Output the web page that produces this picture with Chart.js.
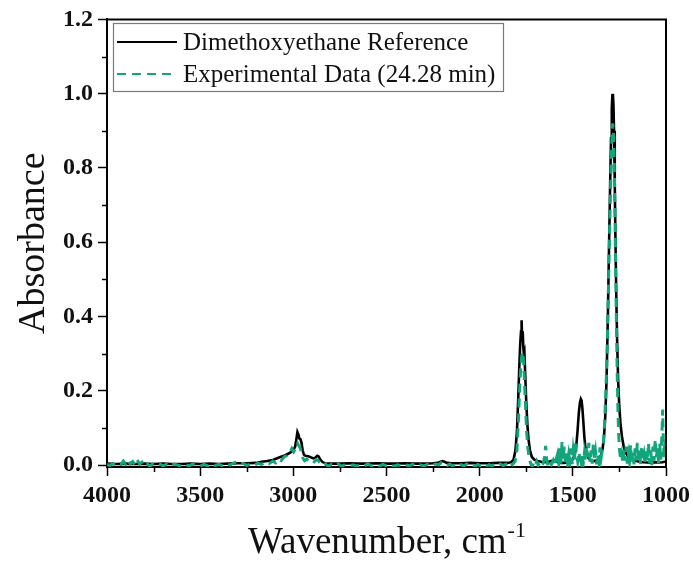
<!DOCTYPE html>
<html>
<head>
<meta charset="utf-8">
<script src="https://cdn.jsdelivr.net/npm/chart.js@4"></script>
<style>
  html, body { margin: 0; padding: 0; background: #fff; }
  canvas { display: block; }
</style>
</head>
<body>
<canvas id="c" width="693" height="567"></canvas>
<script>
// Dimethoxyethane reference spectrum: wavenumber (cm-1) and absorbance
const wnRef = [
  4000,3950,3900,3850,3800,3750,3700,3650,3600,3550,
  3500,3450,3400,3350,3300,3250,3200,3170,3140,3110,
  3090,3070,3050,3030,3015,3000,2990,2983,2978,2973,
  2968,2962,2956,2950,2943,2935,2920,2905,2893,2882,
  2872,2864,2855,2845,2830,2800,2750,2700,2650,2600,
  2550,2500,2450,2400,2350,2300,2250,2225,2210,2200,
  2190,2175,2150,2100,2050,2000,1950,1900,1870,1850,
  1830,1818,1808,1800,1793,1787,1782,1778,1775,1772,
  1769,1766,1763,1760,1756,1750,1744,1738,1730,1720,
  1705,1690,1670,1650,1630,1612,1598,1585,1570,1550,
  1530,1515,1500,1490,1482,1475,1468,1462,1457,1453,
  1449,1444,1438,1432,1425,1415,1400,1385,1370,1358,
  1348,1340,1333,1326,1319,1312,1306,1300,1295,1291,
  1288,1285,1282,1279,1275,1271,1267,1262,1257,1251,
  1244,1236,1227,1217,1205,1190,1175,1160,1140,1120,
  1100,1080,1060,1040,1020,1000
];
const absRef = [
  0.004,0.003,0.004,0.003,0.004,0.003,0.004,0.003,0.003,0.004,
  0.003,0.004,0.003,0.004,0.005,0.005,0.006,0.009,0.011,0.014,
  0.018,0.022,0.025,0.030,0.034,0.040,0.050,0.072,0.089,0.083,
  0.072,0.070,0.060,0.040,0.028,0.025,0.024,0.021,0.018,0.020,
  0.025,0.023,0.015,0.009,0.005,0.004,0.004,0.005,0.004,0.004,
  0.005,0.004,0.004,0.005,0.004,0.004,0.005,0.006,0.009,0.011,
  0.009,0.006,0.005,0.005,0.006,0.005,0.005,0.006,0.006,0.006,
  0.008,0.015,0.040,0.090,0.180,0.270,0.330,0.360,0.390,0.340,
  0.360,0.320,0.300,0.305,0.250,0.170,0.110,0.070,0.040,0.022,
  0.014,0.011,0.009,0.008,0.009,0.012,0.013,0.009,0.006,0.006,
  0.007,0.010,0.016,0.028,0.050,0.090,0.140,0.168,0.178,0.174,
  0.155,0.120,0.075,0.045,0.028,0.018,0.012,0.011,0.013,0.018,
  0.028,0.045,0.075,0.130,0.230,0.400,0.580,0.750,0.880,0.960,
  0.995,1.000,0.970,0.900,0.760,0.600,0.460,0.330,0.230,0.160,
  0.110,0.075,0.050,0.034,0.024,0.017,0.013,0.011,0.009,0.008,
  0.007,0.007,0.008,0.007,0.008,0.010
];

// Experimental spectrum at 24.28 min
const wnExp = [
  4000,3985,3970,3955,3940,3925,3912,3900,3888,3875,
  3862,3850,3838,3825,3812,3800,3785,3770,3755,3740,
  3720,3700,3680,3660,3640,3620,3600,3580,3560,3540,
  3520,3500,3480,3460,3440,3420,3400,3380,3360,3340,
  3320,3300,3285,3270,3250,3230,3210,3190,3170,3150,
  3130,3110,3095,3080,3065,3050,3035,3020,3008,2998,
  2990,2983,2977,2970,2962,2955,2948,2940,2928,2915,
  2900,2888,2876,2866,2855,2842,2828,2812,2796,2780,
  2760,2740,2720,2700,2680,2660,2640,2620,2600,2580,
  2560,2540,2520,2500,2480,2460,2440,2420,2400,2380,
  2360,2340,2320,2300,2280,2260,2240,2220,2205,2190,
  2175,2160,2145,2130,2115,2100,2085,2070,2055,2040,
  2025,2010,1995,1980,1965,1950,1935,1920,1905,1890,
  1875,1860,1845,1832,1820,1810,1800,1792,1786,1780,
  1775,1770,1765,1760,1754,1748,1741,1734,1726,1718,
  1710,1702,1694,1686,1678,1670,1660,1652,1646,1640,
  1632,1624,1615,1606,1598,1590,1582,1576,1570,1564,
  1558,1552,1546,1540,1534,1528,1522,1516,1510,1504,
  1498,1492,1486,1480,1474,1468,1462,1456,1450,1444,
  1438,1432,1426,1420,1414,1408,1402,1396,1390,1384,
  1378,1372,1366,1360,1354,1348,1342,1336,1330,1324,
  1318,1312,1306,1300,1295,1290,1286,1282,1278,1274,
  1270,1266,1262,1258,1254,1249,1244,1238,1232,1226,
  1220,1214,1208,1202,1196,1190,1184,1178,1172,1166,
  1160,1154,1148,1142,1136,1130,1124,1118,1112,1106,
  1100,1094,1088,1082,1076,1070,1064,1058,1052,1046,
  1040,1034,1028,1022,1018,1014,1010,1006,1003,1000
];
const absExp = [
  0.002,-0.001,0.004,0.000,0.005,0.002,0.011,0.003,0.013,0.004,
  0.010,0.001,0.014,0.003,0.008,-0.002,0.004,-0.003,0.003,0.000,
  0.004,-0.002,0.002,-0.003,0.003,0.000,-0.003,0.002,-0.002,0.003,
  0.000,-0.003,0.002,-0.002,0.003,-0.001,0.002,-0.002,0.003,0.000,
  0.006,0.009,0.003,0.005,-0.001,0.003,0.000,0.005,0.002,0.008,
  0.004,0.011,0.006,0.016,0.012,0.022,0.026,0.033,0.045,0.036,
  0.042,0.050,0.058,0.052,0.045,0.030,0.018,0.012,0.016,0.010,
  0.014,0.009,0.015,0.012,0.005,-0.001,0.003,-0.003,0.002,-0.002,
  0.003,-0.003,0.002,-0.002,0.001,-0.003,0.002,-0.002,0.003,-0.002,
  0.001,-0.003,0.002,-0.002,0.002,-0.003,0.001,-0.002,0.002,-0.002,
  0.002,-0.003,0.001,-0.002,0.002,-0.002,0.003,0.001,0.007,0.004,
  -0.001,0.003,-0.002,0.002,-0.003,0.001,-0.002,0.003,-0.002,0.001,
  -0.003,0.002,-0.002,0.002,-0.003,0.001,-0.002,0.002,-0.002,0.003,
  -0.001,0.002,0.007,-0.002,0.004,0.010,0.040,0.120,0.200,0.260,
  0.290,0.305,0.285,0.230,0.160,0.090,0.045,0.018,0.004,-0.003,
  0.006,-0.002,0.010,0.000,0.006,-0.003,0.004,0.020,0.052,0.015,
  -0.003,0.008,0.002,0.012,-0.002,0.015,0.030,0.008,0.045,0.004,
  0.062,0.015,0.050,0.000,0.038,0.006,0.030,0.012,0.045,0.003,
  0.040,0.015,0.058,0.030,0.010,0.035,0.020,0.008,0.025,0.005,
  0.032,0.010,0.050,0.022,0.060,0.008,0.040,0.004,0.058,0.012,
  0.035,0.002,0.030,0.010,0.048,0.020,0.040,0.060,0.110,0.180,
  0.270,0.400,0.550,0.690,0.800,0.880,0.920,0.900,0.820,0.680,
  0.520,0.380,0.250,0.150,0.080,0.040,0.015,0.030,0.006,0.040,
  0.012,0.050,0.004,0.030,0.010,0.055,0.005,0.035,0.002,0.045,
  0.012,0.060,0.008,0.040,0.003,0.052,0.015,0.030,0.002,0.045,
  0.010,0.060,0.006,0.040,0.000,0.050,0.012,0.070,0.020,0.045,
  0.005,0.060,0.015,0.080,0.150,0.060,0.020,0.070,0.030,0.055
];

const seriesLabels = ['Dimethoxyethane Reference', 'Experimental Data (24.28 min)'];
const xMinorTicks = [3750, 3250, 2750, 2250, 1750, 1250];
const yMinorTicks = [0.1, 0.3, 0.5, 0.7, 0.9, 1.1];

const SERIF = '"Liberation Serif", "Times New Roman", serif';
const GREEN = '#12a57c';

const toPoints = (xs, ys) => xs.map((x, i) => ({ x: x, y: ys[i] }));

// Frame, minor ticks, in-plot legend and the x-axis title with superscript
const decorations = {
  id: 'decorations',
  afterDraw(chart) {
    const { ctx, chartArea: a, scales } = chart;
    const xs = scales.x, ys = scales.y;
    ctx.save();
    ctx.strokeStyle = '#000';
    ctx.lineWidth = 2;
    ctx.setLineDash([]);
    ctx.beginPath();
    ctx.moveTo(a.left - 1, a.top);
    ctx.lineTo(a.right, a.top);
    ctx.lineTo(a.right, a.bottom + 1);
    ctx.stroke();

    ctx.lineWidth = 1.5;
    ctx.beginPath();
    xMinorTicks.forEach(v => {
      const px = Math.round(xs.getPixelForValue(v)) + 0.5;
      ctx.moveTo(px, a.bottom);
      ctx.lineTo(px, a.bottom + 5);
    });
    yMinorTicks.forEach(v => {
      const py = Math.round(ys.getPixelForValue(v)) + 0.5;
      ctx.moveTo(a.left, py);
      ctx.lineTo(a.left - 5, py);
    });
    ctx.stroke();

    // legend
    const box = { l: 113.5, t: 23.5, r: 503.5, b: 91.5 };
    ctx.fillStyle = '#fff';
    ctx.fillRect(box.l, box.t, box.r - box.l, box.b - box.t);
    ctx.strokeStyle = '#7a7a7a';
    ctx.lineWidth = 1.2;
    ctx.strokeRect(box.l, box.t, box.r - box.l, box.b - box.t);
    const rows = [42, 74];
    chart.data.datasets.forEach((ds, i) => {
      const y = rows[i];
      ctx.strokeStyle = ds.borderColor;
      ctx.lineWidth = 2;
      ctx.setLineDash(ds.borderDash || []);
      ctx.beginPath();
      ctx.moveTo(117, y);
      ctx.lineTo(177, y);
      ctx.stroke();
      ctx.setLineDash([]);
      ctx.fillStyle = '#111';
      ctx.font = '25px ' + SERIF;
      ctx.textBaseline = 'middle';
      ctx.textAlign = 'left';
      ctx.fillText(ds.label, 183, y + 1);
    });

    // x-axis title
    ctx.fillStyle = '#111';
    ctx.textBaseline = 'alphabetic';
    const main = 'Wavenumber, cm';
    const sup = '-1';
    ctx.font = '37px ' + SERIF;
    const wMain = ctx.measureText(main).width;
    ctx.font = '22px ' + SERIF;
    const wSup = ctx.measureText(sup).width;
    const cx = (a.left + a.right) / 2;
    const x0 = cx - (wMain + wSup) / 2;
    ctx.font = '37px ' + SERIF;
    ctx.textAlign = 'left';
    ctx.fillText(main, x0, 553);
    ctx.font = '22px ' + SERIF;
    ctx.fillText(sup, x0 + wMain + 1, 537);
    ctx.restore();
  }
};

new Chart(document.getElementById('c'), {
  type: 'line',
  data: {
    datasets: [
      {
        label: seriesLabels[0],
        data: toPoints(wnRef, absRef),
        borderColor: '#000',
        borderWidth: 2.6,
        pointRadius: 0,
        tension: 0,
        order: 1
      },
      {
        label: seriesLabels[1],
        data: toPoints(wnExp, absExp),
        borderColor: GREEN,
        borderWidth: 3,
        borderDash: [9, 6],
        pointRadius: 0,
        tension: 0,
        order: 0
      }
    ]
  },
  options: {
    responsive: false,
    animation: false,
    devicePixelRatio: 1,
    layout: { padding: { top: 19, right: 27, left: 0, bottom: 0 } },
    plugins: { legend: { display: false }, tooltip: { enabled: false } },
    scales: {
      x: {
        type: 'linear',
        reverse: true,
        min: 1000,
        max: 4000,
        afterFit(scale) {
          scale.height = 100;
          scale.paddingLeft = 0;
          scale.paddingRight = 0;
        },
        ticks: {
          stepSize: 500,
          color: '#111',
          padding: 5,
          maxRotation: 0,
          font: { family: SERIF, size: 24, weight: 'bold' },
          callback: v => String(v)
        },
        grid: { drawOnChartArea: false, drawTicks: true, tickLength: 9, tickWidth: 1.5, tickColor: '#000' },
        border: { display: true, color: '#000', width: 2 }
      },
      y: {
        min: -0.005,
        max: 1.2,
        afterFit(scale) { scale.width = 107; },
        title: {
          display: true,
          text: 'Absorbance',
          color: '#111',
          font: { family: SERIF, size: 38 },
          padding: { top: 11, bottom: 0 }
        },
        ticks: {
          stepSize: 0.2,
          includeBounds: false,
          color: '#111',
          padding: 5,
          font: { family: SERIF, size: 24, weight: 'bold' },
          callback: v => v.toFixed(1)
        },
        grid: { drawOnChartArea: false, drawTicks: true, tickLength: 9, tickWidth: 1.5, tickColor: '#000' },
        border: { display: true, color: '#000', width: 2 }
      }
    }
  },
  plugins: [decorations]
});
</script>
</body>
</html>
